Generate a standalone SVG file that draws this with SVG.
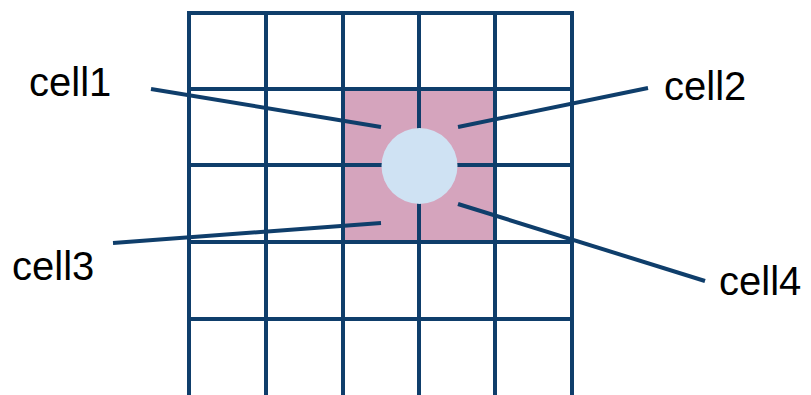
<svg xmlns="http://www.w3.org/2000/svg" width="811" height="395" viewBox="0 0 811 395">
<style>
.g{stroke:#0f3e6b;stroke-width:4;fill:none;stroke-linecap:square}
.c{stroke:#0f3e6b;stroke-width:4;fill:none;stroke-linecap:butt}
.t{font-family:"Liberation Sans",Arial,sans-serif;font-size:40px;fill:#000}
</style>
<rect width="811" height="395" fill="#fff"/>
<g id="highlight"><rect x="343" y="89" width="152" height="153" fill="#d5a4bd"/></g>
<g id="grid">
<path class="g" d="M189 13H572M189 89H572M189 165H572M189 242H572M189 319H572"/>
<path class="g" d="M189 13V397M266 13V397M343 13V397M419 13V397M495 13V397M572 13V397"/>
</g>
<g id="particle"><circle cx="419.5" cy="166" r="38" fill="#cfe2f3"/></g>
<g id="connectors">
<path class="c" d="M151 89L381 127"/>
<path class="c" d="M458 127L648 88"/>
<path class="c" d="M113 243L381 223"/>
<path class="c" d="M458 204L705 281"/>
</g>
<g id="cell1"><text class="t" x="29" y="96">cell1</text></g>
<g id="cell2"><text class="t" x="664" y="100">cell2</text></g>
<g id="cell3"><text class="t" x="12" y="280">cell3</text></g>
<g id="cell4"><text class="t" x="719" y="295">cell4</text></g>
</svg>
